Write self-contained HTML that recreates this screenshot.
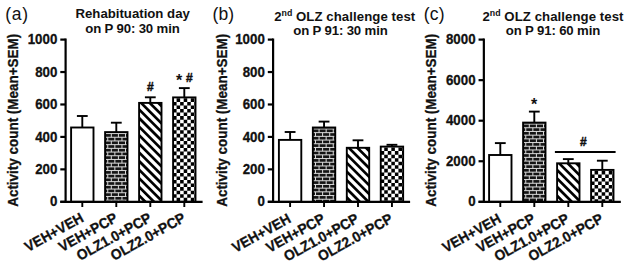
<!DOCTYPE html>
<html><head><meta charset="utf-8"><style>
html,body{margin:0;padding:0;background:#fff;overflow:hidden;}
svg{display:block;}
text{font-family:"Liberation Sans", sans-serif;fill:#111;}
.tk{stroke:#111;stroke-width:0.3px;}
</style></head><body>
<svg width="632" height="267" viewBox="0 0 632 267">
<defs>
<clipPath id="c1"><rect x="105.10" y="132.10" width="22.40" height="69.70"/></clipPath>
<clipPath id="c2"><rect x="139.10" y="102.90" width="22.40" height="98.90"/></clipPath>
<clipPath id="c3"><rect x="173.10" y="97.40" width="22.40" height="104.40"/></clipPath>
<clipPath id="c4"><rect x="312.85" y="127.50" width="22.40" height="74.30"/></clipPath>
<clipPath id="c5"><rect x="346.80" y="147.80" width="22.40" height="54.00"/></clipPath>
<clipPath id="c6"><rect x="380.75" y="146.60" width="22.40" height="55.20"/></clipPath>
<clipPath id="c7"><rect x="523.10" y="122.60" width="22.40" height="79.20"/></clipPath>
<clipPath id="c8"><rect x="557.10" y="163.30" width="22.40" height="38.50"/></clipPath>
<clipPath id="c9"><rect x="591.10" y="169.90" width="22.40" height="31.90"/></clipPath>
</defs>
<line x1="82.30" y1="127.50" x2="82.30" y2="116.00" stroke="#000" stroke-width="1.9"/>
<line x1="76.90" y1="116.00" x2="87.70" y2="116.00" stroke="#000" stroke-width="1.9"/>
<rect x="71.10" y="127.50" width="22.40" height="74.30" fill="#fff"/>
<rect x="71.10" y="127.50" width="22.40" height="74.30" fill="none" stroke="#000" stroke-width="1.9"/>
<line x1="82.30" y1="201.80" x2="82.30" y2="207" stroke="#000" stroke-width="1.9"/>
<text transform="translate(84.60,220.85) rotate(-29) scale(0.95,1)" text-anchor="end" font-size="14.5" font-weight="bold" class="tk">VEH+VEH</text>
<line x1="116.30" y1="132.10" x2="116.30" y2="122.70" stroke="#000" stroke-width="1.9"/>
<line x1="110.90" y1="122.70" x2="121.70" y2="122.70" stroke="#000" stroke-width="1.9"/>
<g clip-path="url(#c1)"><rect x="105.10" y="132.10" width="22.40" height="69.70" fill="#141414"/><rect x="105.10" y="133.05" width="22.40" height="1" fill="#dcdcdc"/><rect x="110.80" y="133.55" width="1" height="3.7" fill="#dcdcdc"/><rect x="117.90" y="133.55" width="1" height="3.7" fill="#dcdcdc"/><rect x="125.00" y="133.55" width="1" height="3.7" fill="#dcdcdc"/><rect x="105.10" y="136.75" width="22.40" height="1" fill="#dcdcdc"/><rect x="107.25" y="137.25" width="1" height="3.7" fill="#dcdcdc"/><rect x="114.35" y="137.25" width="1" height="3.7" fill="#dcdcdc"/><rect x="121.45" y="137.25" width="1" height="3.7" fill="#dcdcdc"/><rect x="105.10" y="140.45" width="22.40" height="1" fill="#dcdcdc"/><rect x="110.80" y="140.95" width="1" height="3.7" fill="#dcdcdc"/><rect x="117.90" y="140.95" width="1" height="3.7" fill="#dcdcdc"/><rect x="125.00" y="140.95" width="1" height="3.7" fill="#dcdcdc"/><rect x="105.10" y="144.15" width="22.40" height="1" fill="#dcdcdc"/><rect x="107.25" y="144.65" width="1" height="3.7" fill="#dcdcdc"/><rect x="114.35" y="144.65" width="1" height="3.7" fill="#dcdcdc"/><rect x="121.45" y="144.65" width="1" height="3.7" fill="#dcdcdc"/><rect x="105.10" y="147.85" width="22.40" height="1" fill="#dcdcdc"/><rect x="110.80" y="148.35" width="1" height="3.7" fill="#dcdcdc"/><rect x="117.90" y="148.35" width="1" height="3.7" fill="#dcdcdc"/><rect x="125.00" y="148.35" width="1" height="3.7" fill="#dcdcdc"/><rect x="105.10" y="151.55" width="22.40" height="1" fill="#dcdcdc"/><rect x="107.25" y="152.05" width="1" height="3.7" fill="#dcdcdc"/><rect x="114.35" y="152.05" width="1" height="3.7" fill="#dcdcdc"/><rect x="121.45" y="152.05" width="1" height="3.7" fill="#dcdcdc"/><rect x="105.10" y="155.25" width="22.40" height="1" fill="#dcdcdc"/><rect x="110.80" y="155.75" width="1" height="3.7" fill="#dcdcdc"/><rect x="117.90" y="155.75" width="1" height="3.7" fill="#dcdcdc"/><rect x="125.00" y="155.75" width="1" height="3.7" fill="#dcdcdc"/><rect x="105.10" y="158.95" width="22.40" height="1" fill="#dcdcdc"/><rect x="107.25" y="159.45" width="1" height="3.7" fill="#dcdcdc"/><rect x="114.35" y="159.45" width="1" height="3.7" fill="#dcdcdc"/><rect x="121.45" y="159.45" width="1" height="3.7" fill="#dcdcdc"/><rect x="105.10" y="162.65" width="22.40" height="1" fill="#dcdcdc"/><rect x="110.80" y="163.15" width="1" height="3.7" fill="#dcdcdc"/><rect x="117.90" y="163.15" width="1" height="3.7" fill="#dcdcdc"/><rect x="125.00" y="163.15" width="1" height="3.7" fill="#dcdcdc"/><rect x="105.10" y="166.35" width="22.40" height="1" fill="#dcdcdc"/><rect x="107.25" y="166.85" width="1" height="3.7" fill="#dcdcdc"/><rect x="114.35" y="166.85" width="1" height="3.7" fill="#dcdcdc"/><rect x="121.45" y="166.85" width="1" height="3.7" fill="#dcdcdc"/><rect x="105.10" y="170.05" width="22.40" height="1" fill="#dcdcdc"/><rect x="110.80" y="170.55" width="1" height="3.7" fill="#dcdcdc"/><rect x="117.90" y="170.55" width="1" height="3.7" fill="#dcdcdc"/><rect x="125.00" y="170.55" width="1" height="3.7" fill="#dcdcdc"/><rect x="105.10" y="173.75" width="22.40" height="1" fill="#dcdcdc"/><rect x="107.25" y="174.25" width="1" height="3.7" fill="#dcdcdc"/><rect x="114.35" y="174.25" width="1" height="3.7" fill="#dcdcdc"/><rect x="121.45" y="174.25" width="1" height="3.7" fill="#dcdcdc"/><rect x="105.10" y="177.45" width="22.40" height="1" fill="#dcdcdc"/><rect x="110.80" y="177.95" width="1" height="3.7" fill="#dcdcdc"/><rect x="117.90" y="177.95" width="1" height="3.7" fill="#dcdcdc"/><rect x="125.00" y="177.95" width="1" height="3.7" fill="#dcdcdc"/><rect x="105.10" y="181.15" width="22.40" height="1" fill="#dcdcdc"/><rect x="107.25" y="181.65" width="1" height="3.7" fill="#dcdcdc"/><rect x="114.35" y="181.65" width="1" height="3.7" fill="#dcdcdc"/><rect x="121.45" y="181.65" width="1" height="3.7" fill="#dcdcdc"/><rect x="105.10" y="184.85" width="22.40" height="1" fill="#dcdcdc"/><rect x="110.80" y="185.35" width="1" height="3.7" fill="#dcdcdc"/><rect x="117.90" y="185.35" width="1" height="3.7" fill="#dcdcdc"/><rect x="125.00" y="185.35" width="1" height="3.7" fill="#dcdcdc"/><rect x="105.10" y="188.55" width="22.40" height="1" fill="#dcdcdc"/><rect x="107.25" y="189.05" width="1" height="3.7" fill="#dcdcdc"/><rect x="114.35" y="189.05" width="1" height="3.7" fill="#dcdcdc"/><rect x="121.45" y="189.05" width="1" height="3.7" fill="#dcdcdc"/><rect x="105.10" y="192.25" width="22.40" height="1" fill="#dcdcdc"/><rect x="110.80" y="192.75" width="1" height="3.7" fill="#dcdcdc"/><rect x="117.90" y="192.75" width="1" height="3.7" fill="#dcdcdc"/><rect x="125.00" y="192.75" width="1" height="3.7" fill="#dcdcdc"/><rect x="105.10" y="195.95" width="22.40" height="1" fill="#dcdcdc"/><rect x="107.25" y="196.45" width="1" height="3.7" fill="#dcdcdc"/><rect x="114.35" y="196.45" width="1" height="3.7" fill="#dcdcdc"/><rect x="121.45" y="196.45" width="1" height="3.7" fill="#dcdcdc"/><rect x="105.10" y="199.65" width="22.40" height="1" fill="#dcdcdc"/><rect x="110.80" y="200.15" width="1" height="3.7" fill="#dcdcdc"/><rect x="117.90" y="200.15" width="1" height="3.7" fill="#dcdcdc"/><rect x="125.00" y="200.15" width="1" height="3.7" fill="#dcdcdc"/></g>
<rect x="105.10" y="132.10" width="22.40" height="69.70" fill="none" stroke="#000" stroke-width="1.9"/>
<line x1="116.30" y1="201.80" x2="116.30" y2="207" stroke="#000" stroke-width="1.9"/>
<text transform="translate(118.60,220.85) rotate(-29) scale(0.95,1)" text-anchor="end" font-size="14.5" font-weight="bold" class="tk">VEH+PCP</text>
<line x1="150.30" y1="102.90" x2="150.30" y2="97.30" stroke="#000" stroke-width="1.9"/>
<line x1="144.90" y1="97.30" x2="155.70" y2="97.30" stroke="#000" stroke-width="1.9"/>
<g clip-path="url(#c2)"><rect x="139.10" y="102.90" width="22.40" height="98.90" fill="#fff"/><path d="M134.10,-76.10L166.50,-43.70M134.10,-67.50L166.50,-35.10M134.10,-58.90L166.50,-26.50M134.10,-50.30L166.50,-17.90M134.10,-41.70L166.50,-9.30M134.10,-33.10L166.50,-0.70M134.10,-24.50L166.50,7.90M134.10,-15.90L166.50,16.50M134.10,-7.30L166.50,25.10M134.10,1.30L166.50,33.70M134.10,9.90L166.50,42.30M134.10,18.50L166.50,50.90M134.10,27.10L166.50,59.50M134.10,35.70L166.50,68.10M134.10,44.30L166.50,76.70M134.10,52.90L166.50,85.30M134.10,61.50L166.50,93.90M134.10,70.10L166.50,102.50M134.10,78.70L166.50,111.10M134.10,87.30L166.50,119.70M134.10,95.90L166.50,128.30M134.10,104.50L166.50,136.90M134.10,113.10L166.50,145.50M134.10,121.70L166.50,154.10M134.10,130.30L166.50,162.70M134.10,138.90L166.50,171.30M134.10,147.50L166.50,179.90M134.10,156.10L166.50,188.50M134.10,164.70L166.50,197.10M134.10,173.30L166.50,205.70M134.10,181.90L166.50,214.30M134.10,190.50L166.50,222.90M134.10,199.10L166.50,231.50" stroke="#000" stroke-width="2.68"/></g>
<rect x="139.10" y="102.90" width="22.40" height="98.90" fill="none" stroke="#000" stroke-width="1.9"/>
<line x1="150.30" y1="201.80" x2="150.30" y2="207" stroke="#000" stroke-width="1.9"/>
<text transform="translate(152.60,220.85) rotate(-29) scale(0.95,1)" text-anchor="end" font-size="14.5" font-weight="bold" class="tk">OLZ1.0+PCP</text>
<line x1="184.30" y1="97.40" x2="184.30" y2="88.10" stroke="#000" stroke-width="1.9"/>
<line x1="178.90" y1="88.10" x2="189.70" y2="88.10" stroke="#000" stroke-width="1.9"/>
<g clip-path="url(#c3)"><rect x="173.10" y="97.40" width="22.40" height="104.40" fill="#fff"/><path d="M176.58,98.35h3.55v3.55h-3.55zM183.68,98.35h3.55v3.55h-3.55zM190.78,98.35h3.55v3.55h-3.55zM173.03,101.90h3.55v3.55h-3.55zM180.12,101.90h3.55v3.55h-3.55zM187.22,101.90h3.55v3.55h-3.55zM194.32,101.90h3.55v3.55h-3.55zM176.58,105.45h3.55v3.55h-3.55zM183.68,105.45h3.55v3.55h-3.55zM190.78,105.45h3.55v3.55h-3.55zM173.03,109.00h3.55v3.55h-3.55zM180.12,109.00h3.55v3.55h-3.55zM187.22,109.00h3.55v3.55h-3.55zM194.32,109.00h3.55v3.55h-3.55zM176.58,112.55h3.55v3.55h-3.55zM183.68,112.55h3.55v3.55h-3.55zM190.78,112.55h3.55v3.55h-3.55zM173.03,116.10h3.55v3.55h-3.55zM180.12,116.10h3.55v3.55h-3.55zM187.22,116.10h3.55v3.55h-3.55zM194.32,116.10h3.55v3.55h-3.55zM176.58,119.65h3.55v3.55h-3.55zM183.68,119.65h3.55v3.55h-3.55zM190.78,119.65h3.55v3.55h-3.55zM173.03,123.20h3.55v3.55h-3.55zM180.12,123.20h3.55v3.55h-3.55zM187.22,123.20h3.55v3.55h-3.55zM194.32,123.20h3.55v3.55h-3.55zM176.58,126.75h3.55v3.55h-3.55zM183.68,126.75h3.55v3.55h-3.55zM190.78,126.75h3.55v3.55h-3.55zM173.03,130.30h3.55v3.55h-3.55zM180.12,130.30h3.55v3.55h-3.55zM187.22,130.30h3.55v3.55h-3.55zM194.32,130.30h3.55v3.55h-3.55zM176.58,133.85h3.55v3.55h-3.55zM183.68,133.85h3.55v3.55h-3.55zM190.78,133.85h3.55v3.55h-3.55zM173.03,137.40h3.55v3.55h-3.55zM180.12,137.40h3.55v3.55h-3.55zM187.22,137.40h3.55v3.55h-3.55zM194.32,137.40h3.55v3.55h-3.55zM176.58,140.95h3.55v3.55h-3.55zM183.68,140.95h3.55v3.55h-3.55zM190.78,140.95h3.55v3.55h-3.55zM173.03,144.50h3.55v3.55h-3.55zM180.12,144.50h3.55v3.55h-3.55zM187.22,144.50h3.55v3.55h-3.55zM194.32,144.50h3.55v3.55h-3.55zM176.58,148.05h3.55v3.55h-3.55zM183.68,148.05h3.55v3.55h-3.55zM190.78,148.05h3.55v3.55h-3.55zM173.03,151.60h3.55v3.55h-3.55zM180.12,151.60h3.55v3.55h-3.55zM187.22,151.60h3.55v3.55h-3.55zM194.32,151.60h3.55v3.55h-3.55zM176.58,155.15h3.55v3.55h-3.55zM183.68,155.15h3.55v3.55h-3.55zM190.78,155.15h3.55v3.55h-3.55zM173.03,158.70h3.55v3.55h-3.55zM180.12,158.70h3.55v3.55h-3.55zM187.22,158.70h3.55v3.55h-3.55zM194.32,158.70h3.55v3.55h-3.55zM176.58,162.25h3.55v3.55h-3.55zM183.68,162.25h3.55v3.55h-3.55zM190.78,162.25h3.55v3.55h-3.55zM173.03,165.80h3.55v3.55h-3.55zM180.12,165.80h3.55v3.55h-3.55zM187.22,165.80h3.55v3.55h-3.55zM194.32,165.80h3.55v3.55h-3.55zM176.58,169.35h3.55v3.55h-3.55zM183.68,169.35h3.55v3.55h-3.55zM190.78,169.35h3.55v3.55h-3.55zM173.03,172.90h3.55v3.55h-3.55zM180.12,172.90h3.55v3.55h-3.55zM187.22,172.90h3.55v3.55h-3.55zM194.32,172.90h3.55v3.55h-3.55zM176.58,176.45h3.55v3.55h-3.55zM183.68,176.45h3.55v3.55h-3.55zM190.78,176.45h3.55v3.55h-3.55zM173.03,180.00h3.55v3.55h-3.55zM180.12,180.00h3.55v3.55h-3.55zM187.22,180.00h3.55v3.55h-3.55zM194.32,180.00h3.55v3.55h-3.55zM176.58,183.55h3.55v3.55h-3.55zM183.68,183.55h3.55v3.55h-3.55zM190.78,183.55h3.55v3.55h-3.55zM173.03,187.10h3.55v3.55h-3.55zM180.12,187.10h3.55v3.55h-3.55zM187.22,187.10h3.55v3.55h-3.55zM194.32,187.10h3.55v3.55h-3.55zM176.58,190.65h3.55v3.55h-3.55zM183.68,190.65h3.55v3.55h-3.55zM190.78,190.65h3.55v3.55h-3.55zM173.03,194.20h3.55v3.55h-3.55zM180.12,194.20h3.55v3.55h-3.55zM187.22,194.20h3.55v3.55h-3.55zM194.32,194.20h3.55v3.55h-3.55zM176.58,197.75h3.55v3.55h-3.55zM183.68,197.75h3.55v3.55h-3.55zM190.78,197.75h3.55v3.55h-3.55zM173.03,201.30h3.55v3.55h-3.55zM180.12,201.30h3.55v3.55h-3.55zM187.22,201.30h3.55v3.55h-3.55zM194.32,201.30h3.55v3.55h-3.55z" fill="#000"/></g>
<rect x="173.10" y="97.40" width="22.40" height="104.40" fill="none" stroke="#000" stroke-width="1.9"/>
<line x1="184.30" y1="201.80" x2="184.30" y2="207" stroke="#000" stroke-width="1.9"/>
<text transform="translate(186.60,220.85) rotate(-29) scale(0.95,1)" text-anchor="end" font-size="14.5" font-weight="bold" class="tk">OLZ2.0+PCP</text>
<line x1="65.60" y1="38.50" x2="65.60" y2="201.80" stroke="#000" stroke-width="2.2"/>
<line x1="60.30" y1="201.80" x2="202.60" y2="201.80" stroke="#000" stroke-width="2.2"/>
<line x1="60.30" y1="201.80" x2="65.60" y2="201.80" stroke="#000" stroke-width="2.2"/>
<text transform="translate(57.30,206.40) scale(0.95,1)" text-anchor="end" font-size="14.0" font-weight="bold" class="tk">0</text>
<line x1="60.30" y1="169.36" x2="65.60" y2="169.36" stroke="#000" stroke-width="2.2"/>
<text transform="translate(57.30,173.96) scale(0.95,1)" text-anchor="end" font-size="14.0" font-weight="bold" class="tk">200</text>
<line x1="60.30" y1="136.92" x2="65.60" y2="136.92" stroke="#000" stroke-width="2.2"/>
<text transform="translate(57.30,141.52) scale(0.95,1)" text-anchor="end" font-size="14.0" font-weight="bold" class="tk">400</text>
<line x1="60.30" y1="104.48" x2="65.60" y2="104.48" stroke="#000" stroke-width="2.2"/>
<text transform="translate(57.30,109.08) scale(0.95,1)" text-anchor="end" font-size="14.0" font-weight="bold" class="tk">600</text>
<line x1="60.30" y1="72.04" x2="65.60" y2="72.04" stroke="#000" stroke-width="2.2"/>
<text transform="translate(57.30,76.64) scale(0.95,1)" text-anchor="end" font-size="14.0" font-weight="bold" class="tk">800</text>
<line x1="60.30" y1="39.60" x2="65.60" y2="39.60" stroke="#000" stroke-width="2.2"/>
<text transform="translate(57.30,44.20) scale(0.95,1)" text-anchor="end" font-size="14.0" font-weight="bold" class="tk">1000</text>
<line x1="290.10" y1="139.90" x2="290.10" y2="132.00" stroke="#000" stroke-width="1.9"/>
<line x1="284.70" y1="132.00" x2="295.50" y2="132.00" stroke="#000" stroke-width="1.9"/>
<rect x="278.90" y="139.90" width="22.40" height="61.90" fill="#fff"/>
<rect x="278.90" y="139.90" width="22.40" height="61.90" fill="none" stroke="#000" stroke-width="1.9"/>
<line x1="290.10" y1="201.80" x2="290.10" y2="207" stroke="#000" stroke-width="1.9"/>
<text transform="translate(292.00,221.65) rotate(-29) scale(0.95,1)" text-anchor="end" font-size="14.5" font-weight="bold" class="tk">VEH+VEH</text>
<line x1="324.05" y1="127.50" x2="324.05" y2="121.60" stroke="#000" stroke-width="1.9"/>
<line x1="318.65" y1="121.60" x2="329.45" y2="121.60" stroke="#000" stroke-width="1.9"/>
<g clip-path="url(#c4)"><rect x="312.85" y="127.50" width="22.40" height="74.30" fill="#141414"/><rect x="312.85" y="128.45" width="22.40" height="1" fill="#dcdcdc"/><rect x="318.55" y="128.95" width="1" height="3.7" fill="#dcdcdc"/><rect x="325.65" y="128.95" width="1" height="3.7" fill="#dcdcdc"/><rect x="332.75" y="128.95" width="1" height="3.7" fill="#dcdcdc"/><rect x="312.85" y="132.15" width="22.40" height="1" fill="#dcdcdc"/><rect x="315.00" y="132.65" width="1" height="3.7" fill="#dcdcdc"/><rect x="322.10" y="132.65" width="1" height="3.7" fill="#dcdcdc"/><rect x="329.20" y="132.65" width="1" height="3.7" fill="#dcdcdc"/><rect x="312.85" y="135.85" width="22.40" height="1" fill="#dcdcdc"/><rect x="318.55" y="136.35" width="1" height="3.7" fill="#dcdcdc"/><rect x="325.65" y="136.35" width="1" height="3.7" fill="#dcdcdc"/><rect x="332.75" y="136.35" width="1" height="3.7" fill="#dcdcdc"/><rect x="312.85" y="139.55" width="22.40" height="1" fill="#dcdcdc"/><rect x="315.00" y="140.05" width="1" height="3.7" fill="#dcdcdc"/><rect x="322.10" y="140.05" width="1" height="3.7" fill="#dcdcdc"/><rect x="329.20" y="140.05" width="1" height="3.7" fill="#dcdcdc"/><rect x="312.85" y="143.25" width="22.40" height="1" fill="#dcdcdc"/><rect x="318.55" y="143.75" width="1" height="3.7" fill="#dcdcdc"/><rect x="325.65" y="143.75" width="1" height="3.7" fill="#dcdcdc"/><rect x="332.75" y="143.75" width="1" height="3.7" fill="#dcdcdc"/><rect x="312.85" y="146.95" width="22.40" height="1" fill="#dcdcdc"/><rect x="315.00" y="147.45" width="1" height="3.7" fill="#dcdcdc"/><rect x="322.10" y="147.45" width="1" height="3.7" fill="#dcdcdc"/><rect x="329.20" y="147.45" width="1" height="3.7" fill="#dcdcdc"/><rect x="312.85" y="150.65" width="22.40" height="1" fill="#dcdcdc"/><rect x="318.55" y="151.15" width="1" height="3.7" fill="#dcdcdc"/><rect x="325.65" y="151.15" width="1" height="3.7" fill="#dcdcdc"/><rect x="332.75" y="151.15" width="1" height="3.7" fill="#dcdcdc"/><rect x="312.85" y="154.35" width="22.40" height="1" fill="#dcdcdc"/><rect x="315.00" y="154.85" width="1" height="3.7" fill="#dcdcdc"/><rect x="322.10" y="154.85" width="1" height="3.7" fill="#dcdcdc"/><rect x="329.20" y="154.85" width="1" height="3.7" fill="#dcdcdc"/><rect x="312.85" y="158.05" width="22.40" height="1" fill="#dcdcdc"/><rect x="318.55" y="158.55" width="1" height="3.7" fill="#dcdcdc"/><rect x="325.65" y="158.55" width="1" height="3.7" fill="#dcdcdc"/><rect x="332.75" y="158.55" width="1" height="3.7" fill="#dcdcdc"/><rect x="312.85" y="161.75" width="22.40" height="1" fill="#dcdcdc"/><rect x="315.00" y="162.25" width="1" height="3.7" fill="#dcdcdc"/><rect x="322.10" y="162.25" width="1" height="3.7" fill="#dcdcdc"/><rect x="329.20" y="162.25" width="1" height="3.7" fill="#dcdcdc"/><rect x="312.85" y="165.45" width="22.40" height="1" fill="#dcdcdc"/><rect x="318.55" y="165.95" width="1" height="3.7" fill="#dcdcdc"/><rect x="325.65" y="165.95" width="1" height="3.7" fill="#dcdcdc"/><rect x="332.75" y="165.95" width="1" height="3.7" fill="#dcdcdc"/><rect x="312.85" y="169.15" width="22.40" height="1" fill="#dcdcdc"/><rect x="315.00" y="169.65" width="1" height="3.7" fill="#dcdcdc"/><rect x="322.10" y="169.65" width="1" height="3.7" fill="#dcdcdc"/><rect x="329.20" y="169.65" width="1" height="3.7" fill="#dcdcdc"/><rect x="312.85" y="172.85" width="22.40" height="1" fill="#dcdcdc"/><rect x="318.55" y="173.35" width="1" height="3.7" fill="#dcdcdc"/><rect x="325.65" y="173.35" width="1" height="3.7" fill="#dcdcdc"/><rect x="332.75" y="173.35" width="1" height="3.7" fill="#dcdcdc"/><rect x="312.85" y="176.55" width="22.40" height="1" fill="#dcdcdc"/><rect x="315.00" y="177.05" width="1" height="3.7" fill="#dcdcdc"/><rect x="322.10" y="177.05" width="1" height="3.7" fill="#dcdcdc"/><rect x="329.20" y="177.05" width="1" height="3.7" fill="#dcdcdc"/><rect x="312.85" y="180.25" width="22.40" height="1" fill="#dcdcdc"/><rect x="318.55" y="180.75" width="1" height="3.7" fill="#dcdcdc"/><rect x="325.65" y="180.75" width="1" height="3.7" fill="#dcdcdc"/><rect x="332.75" y="180.75" width="1" height="3.7" fill="#dcdcdc"/><rect x="312.85" y="183.95" width="22.40" height="1" fill="#dcdcdc"/><rect x="315.00" y="184.45" width="1" height="3.7" fill="#dcdcdc"/><rect x="322.10" y="184.45" width="1" height="3.7" fill="#dcdcdc"/><rect x="329.20" y="184.45" width="1" height="3.7" fill="#dcdcdc"/><rect x="312.85" y="187.65" width="22.40" height="1" fill="#dcdcdc"/><rect x="318.55" y="188.15" width="1" height="3.7" fill="#dcdcdc"/><rect x="325.65" y="188.15" width="1" height="3.7" fill="#dcdcdc"/><rect x="332.75" y="188.15" width="1" height="3.7" fill="#dcdcdc"/><rect x="312.85" y="191.35" width="22.40" height="1" fill="#dcdcdc"/><rect x="315.00" y="191.85" width="1" height="3.7" fill="#dcdcdc"/><rect x="322.10" y="191.85" width="1" height="3.7" fill="#dcdcdc"/><rect x="329.20" y="191.85" width="1" height="3.7" fill="#dcdcdc"/><rect x="312.85" y="195.05" width="22.40" height="1" fill="#dcdcdc"/><rect x="318.55" y="195.55" width="1" height="3.7" fill="#dcdcdc"/><rect x="325.65" y="195.55" width="1" height="3.7" fill="#dcdcdc"/><rect x="332.75" y="195.55" width="1" height="3.7" fill="#dcdcdc"/><rect x="312.85" y="198.75" width="22.40" height="1" fill="#dcdcdc"/><rect x="315.00" y="199.25" width="1" height="3.7" fill="#dcdcdc"/><rect x="322.10" y="199.25" width="1" height="3.7" fill="#dcdcdc"/><rect x="329.20" y="199.25" width="1" height="3.7" fill="#dcdcdc"/></g>
<rect x="312.85" y="127.50" width="22.40" height="74.30" fill="none" stroke="#000" stroke-width="1.9"/>
<line x1="324.05" y1="201.80" x2="324.05" y2="207" stroke="#000" stroke-width="1.9"/>
<text transform="translate(325.95,221.65) rotate(-29) scale(0.95,1)" text-anchor="end" font-size="14.5" font-weight="bold" class="tk">VEH+PCP</text>
<line x1="358.00" y1="147.80" x2="358.00" y2="140.30" stroke="#000" stroke-width="1.9"/>
<line x1="352.60" y1="140.30" x2="363.40" y2="140.30" stroke="#000" stroke-width="1.9"/>
<g clip-path="url(#c5)"><rect x="346.80" y="147.80" width="22.40" height="54.00" fill="#fff"/><path d="M341.80,-31.20L374.20,1.20M341.80,-22.60L374.20,9.80M341.80,-14.00L374.20,18.40M341.80,-5.40L374.20,27.00M341.80,3.20L374.20,35.60M341.80,11.80L374.20,44.20M341.80,20.40L374.20,52.80M341.80,29.00L374.20,61.40M341.80,37.60L374.20,70.00M341.80,46.20L374.20,78.60M341.80,54.80L374.20,87.20M341.80,63.40L374.20,95.80M341.80,72.00L374.20,104.40M341.80,80.60L374.20,113.00M341.80,89.20L374.20,121.60M341.80,97.80L374.20,130.20M341.80,106.40L374.20,138.80M341.80,115.00L374.20,147.40M341.80,123.60L374.20,156.00M341.80,132.20L374.20,164.60M341.80,140.80L374.20,173.20M341.80,149.40L374.20,181.80M341.80,158.00L374.20,190.40M341.80,166.60L374.20,199.00M341.80,175.20L374.20,207.60M341.80,183.80L374.20,216.20M341.80,192.40L374.20,224.80M341.80,201.00L374.20,233.40" stroke="#000" stroke-width="2.68"/></g>
<rect x="346.80" y="147.80" width="22.40" height="54.00" fill="none" stroke="#000" stroke-width="1.9"/>
<line x1="358.00" y1="201.80" x2="358.00" y2="207" stroke="#000" stroke-width="1.9"/>
<text transform="translate(359.90,221.65) rotate(-29) scale(0.95,1)" text-anchor="end" font-size="14.5" font-weight="bold" class="tk">OLZ1.0+PCP</text>
<line x1="391.95" y1="146.60" x2="391.95" y2="144.80" stroke="#000" stroke-width="1.9"/>
<line x1="386.55" y1="144.80" x2="397.35" y2="144.80" stroke="#000" stroke-width="1.9"/>
<g clip-path="url(#c6)"><rect x="380.75" y="146.60" width="22.40" height="55.20" fill="#fff"/><path d="M384.23,147.55h3.55v3.55h-3.55zM391.33,147.55h3.55v3.55h-3.55zM398.43,147.55h3.55v3.55h-3.55zM380.68,151.10h3.55v3.55h-3.55zM387.78,151.10h3.55v3.55h-3.55zM394.88,151.10h3.55v3.55h-3.55zM401.98,151.10h3.55v3.55h-3.55zM384.23,154.65h3.55v3.55h-3.55zM391.33,154.65h3.55v3.55h-3.55zM398.43,154.65h3.55v3.55h-3.55zM380.68,158.20h3.55v3.55h-3.55zM387.78,158.20h3.55v3.55h-3.55zM394.88,158.20h3.55v3.55h-3.55zM401.98,158.20h3.55v3.55h-3.55zM384.23,161.75h3.55v3.55h-3.55zM391.33,161.75h3.55v3.55h-3.55zM398.43,161.75h3.55v3.55h-3.55zM380.68,165.30h3.55v3.55h-3.55zM387.78,165.30h3.55v3.55h-3.55zM394.88,165.30h3.55v3.55h-3.55zM401.98,165.30h3.55v3.55h-3.55zM384.23,168.85h3.55v3.55h-3.55zM391.33,168.85h3.55v3.55h-3.55zM398.43,168.85h3.55v3.55h-3.55zM380.68,172.40h3.55v3.55h-3.55zM387.78,172.40h3.55v3.55h-3.55zM394.88,172.40h3.55v3.55h-3.55zM401.98,172.40h3.55v3.55h-3.55zM384.23,175.95h3.55v3.55h-3.55zM391.33,175.95h3.55v3.55h-3.55zM398.43,175.95h3.55v3.55h-3.55zM380.68,179.50h3.55v3.55h-3.55zM387.78,179.50h3.55v3.55h-3.55zM394.88,179.50h3.55v3.55h-3.55zM401.98,179.50h3.55v3.55h-3.55zM384.23,183.05h3.55v3.55h-3.55zM391.33,183.05h3.55v3.55h-3.55zM398.43,183.05h3.55v3.55h-3.55zM380.68,186.60h3.55v3.55h-3.55zM387.78,186.60h3.55v3.55h-3.55zM394.88,186.60h3.55v3.55h-3.55zM401.98,186.60h3.55v3.55h-3.55zM384.23,190.15h3.55v3.55h-3.55zM391.33,190.15h3.55v3.55h-3.55zM398.43,190.15h3.55v3.55h-3.55zM380.68,193.70h3.55v3.55h-3.55zM387.78,193.70h3.55v3.55h-3.55zM394.88,193.70h3.55v3.55h-3.55zM401.98,193.70h3.55v3.55h-3.55zM384.23,197.25h3.55v3.55h-3.55zM391.33,197.25h3.55v3.55h-3.55zM398.43,197.25h3.55v3.55h-3.55zM380.68,200.80h3.55v3.55h-3.55zM387.78,200.80h3.55v3.55h-3.55zM394.88,200.80h3.55v3.55h-3.55zM401.98,200.80h3.55v3.55h-3.55z" fill="#000"/></g>
<rect x="380.75" y="146.60" width="22.40" height="55.20" fill="none" stroke="#000" stroke-width="1.9"/>
<line x1="391.95" y1="201.80" x2="391.95" y2="207" stroke="#000" stroke-width="1.9"/>
<text transform="translate(393.85,221.65) rotate(-29) scale(0.95,1)" text-anchor="end" font-size="14.5" font-weight="bold" class="tk">OLZ2.0+PCP</text>
<line x1="273.10" y1="38.50" x2="273.10" y2="201.80" stroke="#000" stroke-width="2.2"/>
<line x1="267.80" y1="201.80" x2="410.10" y2="201.80" stroke="#000" stroke-width="2.2"/>
<line x1="267.80" y1="201.80" x2="273.10" y2="201.80" stroke="#000" stroke-width="2.2"/>
<text transform="translate(264.80,206.40) scale(0.95,1)" text-anchor="end" font-size="14.0" font-weight="bold" class="tk">0</text>
<line x1="267.80" y1="169.36" x2="273.10" y2="169.36" stroke="#000" stroke-width="2.2"/>
<text transform="translate(264.80,173.96) scale(0.95,1)" text-anchor="end" font-size="14.0" font-weight="bold" class="tk">200</text>
<line x1="267.80" y1="136.92" x2="273.10" y2="136.92" stroke="#000" stroke-width="2.2"/>
<text transform="translate(264.80,141.52) scale(0.95,1)" text-anchor="end" font-size="14.0" font-weight="bold" class="tk">400</text>
<line x1="267.80" y1="104.48" x2="273.10" y2="104.48" stroke="#000" stroke-width="2.2"/>
<text transform="translate(264.80,109.08) scale(0.95,1)" text-anchor="end" font-size="14.0" font-weight="bold" class="tk">600</text>
<line x1="267.80" y1="72.04" x2="273.10" y2="72.04" stroke="#000" stroke-width="2.2"/>
<text transform="translate(264.80,76.64) scale(0.95,1)" text-anchor="end" font-size="14.0" font-weight="bold" class="tk">800</text>
<line x1="267.80" y1="39.60" x2="273.10" y2="39.60" stroke="#000" stroke-width="2.2"/>
<text transform="translate(264.80,44.20) scale(0.95,1)" text-anchor="end" font-size="14.0" font-weight="bold" class="tk">1000</text>
<line x1="500.30" y1="155.00" x2="500.30" y2="143.10" stroke="#000" stroke-width="1.9"/>
<line x1="494.90" y1="143.10" x2="505.70" y2="143.10" stroke="#000" stroke-width="1.9"/>
<rect x="489.10" y="155.00" width="22.40" height="46.80" fill="#fff"/>
<rect x="489.10" y="155.00" width="22.40" height="46.80" fill="none" stroke="#000" stroke-width="1.9"/>
<line x1="500.30" y1="201.80" x2="500.30" y2="207" stroke="#000" stroke-width="1.9"/>
<text transform="translate(502.20,221.65) rotate(-29) scale(0.95,1)" text-anchor="end" font-size="14.5" font-weight="bold" class="tk">VEH+VEH</text>
<line x1="534.30" y1="122.60" x2="534.30" y2="111.60" stroke="#000" stroke-width="1.9"/>
<line x1="528.90" y1="111.60" x2="539.70" y2="111.60" stroke="#000" stroke-width="1.9"/>
<g clip-path="url(#c7)"><rect x="523.10" y="122.60" width="22.40" height="79.20" fill="#141414"/><rect x="523.10" y="123.55" width="22.40" height="1" fill="#dcdcdc"/><rect x="528.80" y="124.05" width="1" height="3.7" fill="#dcdcdc"/><rect x="535.90" y="124.05" width="1" height="3.7" fill="#dcdcdc"/><rect x="543.00" y="124.05" width="1" height="3.7" fill="#dcdcdc"/><rect x="523.10" y="127.25" width="22.40" height="1" fill="#dcdcdc"/><rect x="525.25" y="127.75" width="1" height="3.7" fill="#dcdcdc"/><rect x="532.35" y="127.75" width="1" height="3.7" fill="#dcdcdc"/><rect x="539.45" y="127.75" width="1" height="3.7" fill="#dcdcdc"/><rect x="523.10" y="130.95" width="22.40" height="1" fill="#dcdcdc"/><rect x="528.80" y="131.45" width="1" height="3.7" fill="#dcdcdc"/><rect x="535.90" y="131.45" width="1" height="3.7" fill="#dcdcdc"/><rect x="543.00" y="131.45" width="1" height="3.7" fill="#dcdcdc"/><rect x="523.10" y="134.65" width="22.40" height="1" fill="#dcdcdc"/><rect x="525.25" y="135.15" width="1" height="3.7" fill="#dcdcdc"/><rect x="532.35" y="135.15" width="1" height="3.7" fill="#dcdcdc"/><rect x="539.45" y="135.15" width="1" height="3.7" fill="#dcdcdc"/><rect x="523.10" y="138.35" width="22.40" height="1" fill="#dcdcdc"/><rect x="528.80" y="138.85" width="1" height="3.7" fill="#dcdcdc"/><rect x="535.90" y="138.85" width="1" height="3.7" fill="#dcdcdc"/><rect x="543.00" y="138.85" width="1" height="3.7" fill="#dcdcdc"/><rect x="523.10" y="142.05" width="22.40" height="1" fill="#dcdcdc"/><rect x="525.25" y="142.55" width="1" height="3.7" fill="#dcdcdc"/><rect x="532.35" y="142.55" width="1" height="3.7" fill="#dcdcdc"/><rect x="539.45" y="142.55" width="1" height="3.7" fill="#dcdcdc"/><rect x="523.10" y="145.75" width="22.40" height="1" fill="#dcdcdc"/><rect x="528.80" y="146.25" width="1" height="3.7" fill="#dcdcdc"/><rect x="535.90" y="146.25" width="1" height="3.7" fill="#dcdcdc"/><rect x="543.00" y="146.25" width="1" height="3.7" fill="#dcdcdc"/><rect x="523.10" y="149.45" width="22.40" height="1" fill="#dcdcdc"/><rect x="525.25" y="149.95" width="1" height="3.7" fill="#dcdcdc"/><rect x="532.35" y="149.95" width="1" height="3.7" fill="#dcdcdc"/><rect x="539.45" y="149.95" width="1" height="3.7" fill="#dcdcdc"/><rect x="523.10" y="153.15" width="22.40" height="1" fill="#dcdcdc"/><rect x="528.80" y="153.65" width="1" height="3.7" fill="#dcdcdc"/><rect x="535.90" y="153.65" width="1" height="3.7" fill="#dcdcdc"/><rect x="543.00" y="153.65" width="1" height="3.7" fill="#dcdcdc"/><rect x="523.10" y="156.85" width="22.40" height="1" fill="#dcdcdc"/><rect x="525.25" y="157.35" width="1" height="3.7" fill="#dcdcdc"/><rect x="532.35" y="157.35" width="1" height="3.7" fill="#dcdcdc"/><rect x="539.45" y="157.35" width="1" height="3.7" fill="#dcdcdc"/><rect x="523.10" y="160.55" width="22.40" height="1" fill="#dcdcdc"/><rect x="528.80" y="161.05" width="1" height="3.7" fill="#dcdcdc"/><rect x="535.90" y="161.05" width="1" height="3.7" fill="#dcdcdc"/><rect x="543.00" y="161.05" width="1" height="3.7" fill="#dcdcdc"/><rect x="523.10" y="164.25" width="22.40" height="1" fill="#dcdcdc"/><rect x="525.25" y="164.75" width="1" height="3.7" fill="#dcdcdc"/><rect x="532.35" y="164.75" width="1" height="3.7" fill="#dcdcdc"/><rect x="539.45" y="164.75" width="1" height="3.7" fill="#dcdcdc"/><rect x="523.10" y="167.95" width="22.40" height="1" fill="#dcdcdc"/><rect x="528.80" y="168.45" width="1" height="3.7" fill="#dcdcdc"/><rect x="535.90" y="168.45" width="1" height="3.7" fill="#dcdcdc"/><rect x="543.00" y="168.45" width="1" height="3.7" fill="#dcdcdc"/><rect x="523.10" y="171.65" width="22.40" height="1" fill="#dcdcdc"/><rect x="525.25" y="172.15" width="1" height="3.7" fill="#dcdcdc"/><rect x="532.35" y="172.15" width="1" height="3.7" fill="#dcdcdc"/><rect x="539.45" y="172.15" width="1" height="3.7" fill="#dcdcdc"/><rect x="523.10" y="175.35" width="22.40" height="1" fill="#dcdcdc"/><rect x="528.80" y="175.85" width="1" height="3.7" fill="#dcdcdc"/><rect x="535.90" y="175.85" width="1" height="3.7" fill="#dcdcdc"/><rect x="543.00" y="175.85" width="1" height="3.7" fill="#dcdcdc"/><rect x="523.10" y="179.05" width="22.40" height="1" fill="#dcdcdc"/><rect x="525.25" y="179.55" width="1" height="3.7" fill="#dcdcdc"/><rect x="532.35" y="179.55" width="1" height="3.7" fill="#dcdcdc"/><rect x="539.45" y="179.55" width="1" height="3.7" fill="#dcdcdc"/><rect x="523.10" y="182.75" width="22.40" height="1" fill="#dcdcdc"/><rect x="528.80" y="183.25" width="1" height="3.7" fill="#dcdcdc"/><rect x="535.90" y="183.25" width="1" height="3.7" fill="#dcdcdc"/><rect x="543.00" y="183.25" width="1" height="3.7" fill="#dcdcdc"/><rect x="523.10" y="186.45" width="22.40" height="1" fill="#dcdcdc"/><rect x="525.25" y="186.95" width="1" height="3.7" fill="#dcdcdc"/><rect x="532.35" y="186.95" width="1" height="3.7" fill="#dcdcdc"/><rect x="539.45" y="186.95" width="1" height="3.7" fill="#dcdcdc"/><rect x="523.10" y="190.15" width="22.40" height="1" fill="#dcdcdc"/><rect x="528.80" y="190.65" width="1" height="3.7" fill="#dcdcdc"/><rect x="535.90" y="190.65" width="1" height="3.7" fill="#dcdcdc"/><rect x="543.00" y="190.65" width="1" height="3.7" fill="#dcdcdc"/><rect x="523.10" y="193.85" width="22.40" height="1" fill="#dcdcdc"/><rect x="525.25" y="194.35" width="1" height="3.7" fill="#dcdcdc"/><rect x="532.35" y="194.35" width="1" height="3.7" fill="#dcdcdc"/><rect x="539.45" y="194.35" width="1" height="3.7" fill="#dcdcdc"/><rect x="523.10" y="197.55" width="22.40" height="1" fill="#dcdcdc"/><rect x="528.80" y="198.05" width="1" height="3.7" fill="#dcdcdc"/><rect x="535.90" y="198.05" width="1" height="3.7" fill="#dcdcdc"/><rect x="543.00" y="198.05" width="1" height="3.7" fill="#dcdcdc"/><rect x="523.10" y="201.25" width="22.40" height="1" fill="#dcdcdc"/><rect x="525.25" y="201.75" width="1" height="3.7" fill="#dcdcdc"/><rect x="532.35" y="201.75" width="1" height="3.7" fill="#dcdcdc"/><rect x="539.45" y="201.75" width="1" height="3.7" fill="#dcdcdc"/></g>
<rect x="523.10" y="122.60" width="22.40" height="79.20" fill="none" stroke="#000" stroke-width="1.9"/>
<line x1="534.30" y1="201.80" x2="534.30" y2="207" stroke="#000" stroke-width="1.9"/>
<text transform="translate(536.20,221.65) rotate(-29) scale(0.95,1)" text-anchor="end" font-size="14.5" font-weight="bold" class="tk">VEH+PCP</text>
<line x1="568.30" y1="163.30" x2="568.30" y2="159.10" stroke="#000" stroke-width="1.9"/>
<line x1="562.90" y1="159.10" x2="573.70" y2="159.10" stroke="#000" stroke-width="1.9"/>
<g clip-path="url(#c8)"><rect x="557.10" y="163.30" width="22.40" height="38.50" fill="#fff"/><path d="M552.10,-15.70L584.50,16.70M552.10,-7.10L584.50,25.30M552.10,1.50L584.50,33.90M552.10,10.10L584.50,42.50M552.10,18.70L584.50,51.10M552.10,27.30L584.50,59.70M552.10,35.90L584.50,68.30M552.10,44.50L584.50,76.90M552.10,53.10L584.50,85.50M552.10,61.70L584.50,94.10M552.10,70.30L584.50,102.70M552.10,78.90L584.50,111.30M552.10,87.50L584.50,119.90M552.10,96.10L584.50,128.50M552.10,104.70L584.50,137.10M552.10,113.30L584.50,145.70M552.10,121.90L584.50,154.30M552.10,130.50L584.50,162.90M552.10,139.10L584.50,171.50M552.10,147.70L584.50,180.10M552.10,156.30L584.50,188.70M552.10,164.90L584.50,197.30M552.10,173.50L584.50,205.90M552.10,182.10L584.50,214.50M552.10,190.70L584.50,223.10M552.10,199.30L584.50,231.70" stroke="#000" stroke-width="2.68"/></g>
<rect x="557.10" y="163.30" width="22.40" height="38.50" fill="none" stroke="#000" stroke-width="1.9"/>
<line x1="568.30" y1="201.80" x2="568.30" y2="207" stroke="#000" stroke-width="1.9"/>
<text transform="translate(570.20,221.65) rotate(-29) scale(0.95,1)" text-anchor="end" font-size="14.5" font-weight="bold" class="tk">OLZ1.0+PCP</text>
<line x1="602.30" y1="169.90" x2="602.30" y2="160.70" stroke="#000" stroke-width="1.9"/>
<line x1="596.90" y1="160.70" x2="607.70" y2="160.70" stroke="#000" stroke-width="1.9"/>
<g clip-path="url(#c9)"><rect x="591.10" y="169.90" width="22.40" height="31.90" fill="#fff"/><path d="M594.57,170.85h3.55v3.55h-3.55zM601.67,170.85h3.55v3.55h-3.55zM608.77,170.85h3.55v3.55h-3.55zM591.02,174.40h3.55v3.55h-3.55zM598.12,174.40h3.55v3.55h-3.55zM605.23,174.40h3.55v3.55h-3.55zM612.33,174.40h3.55v3.55h-3.55zM594.57,177.95h3.55v3.55h-3.55zM601.67,177.95h3.55v3.55h-3.55zM608.77,177.95h3.55v3.55h-3.55zM591.02,181.50h3.55v3.55h-3.55zM598.12,181.50h3.55v3.55h-3.55zM605.23,181.50h3.55v3.55h-3.55zM612.33,181.50h3.55v3.55h-3.55zM594.57,185.05h3.55v3.55h-3.55zM601.67,185.05h3.55v3.55h-3.55zM608.77,185.05h3.55v3.55h-3.55zM591.02,188.60h3.55v3.55h-3.55zM598.12,188.60h3.55v3.55h-3.55zM605.23,188.60h3.55v3.55h-3.55zM612.33,188.60h3.55v3.55h-3.55zM594.57,192.15h3.55v3.55h-3.55zM601.67,192.15h3.55v3.55h-3.55zM608.77,192.15h3.55v3.55h-3.55zM591.02,195.70h3.55v3.55h-3.55zM598.12,195.70h3.55v3.55h-3.55zM605.23,195.70h3.55v3.55h-3.55zM612.33,195.70h3.55v3.55h-3.55zM594.57,199.25h3.55v3.55h-3.55zM601.67,199.25h3.55v3.55h-3.55zM608.77,199.25h3.55v3.55h-3.55z" fill="#000"/></g>
<rect x="591.10" y="169.90" width="22.40" height="31.90" fill="none" stroke="#000" stroke-width="1.9"/>
<line x1="602.30" y1="201.80" x2="602.30" y2="207" stroke="#000" stroke-width="1.9"/>
<text transform="translate(604.20,221.65) rotate(-29) scale(0.95,1)" text-anchor="end" font-size="14.5" font-weight="bold" class="tk">OLZ2.0+PCP</text>
<line x1="483.85" y1="38.50" x2="483.85" y2="201.80" stroke="#000" stroke-width="2.2"/>
<line x1="478.55" y1="201.80" x2="620.85" y2="201.80" stroke="#000" stroke-width="2.2"/>
<line x1="478.55" y1="201.80" x2="483.85" y2="201.80" stroke="#000" stroke-width="2.2"/>
<text transform="translate(475.55,206.40) scale(0.95,1)" text-anchor="end" font-size="14.0" font-weight="bold" class="tk">0</text>
<line x1="478.55" y1="161.25" x2="483.85" y2="161.25" stroke="#000" stroke-width="2.2"/>
<text transform="translate(475.55,165.85) scale(0.95,1)" text-anchor="end" font-size="14.0" font-weight="bold" class="tk">2000</text>
<line x1="478.55" y1="120.70" x2="483.85" y2="120.70" stroke="#000" stroke-width="2.2"/>
<text transform="translate(475.55,125.30) scale(0.95,1)" text-anchor="end" font-size="14.0" font-weight="bold" class="tk">4000</text>
<line x1="478.55" y1="80.15" x2="483.85" y2="80.15" stroke="#000" stroke-width="2.2"/>
<text transform="translate(475.55,84.75) scale(0.95,1)" text-anchor="end" font-size="14.0" font-weight="bold" class="tk">6000</text>
<line x1="478.55" y1="39.60" x2="483.85" y2="39.60" stroke="#000" stroke-width="2.2"/>
<text transform="translate(475.55,44.20) scale(0.95,1)" text-anchor="end" font-size="14.0" font-weight="bold" class="tk">8000</text>
<text transform="translate(18.30,120.3) rotate(-90) scale(0.962,1)" text-anchor="middle" font-size="14.0" font-weight="bold" class="tk">Activity count (Mean+SEM)</text>
<text transform="translate(226.50,120.3) rotate(-90) scale(0.962,1)" text-anchor="middle" font-size="14.0" font-weight="bold" class="tk">Activity count (Mean+SEM)</text>
<text transform="translate(436.00,120.3) rotate(-90) scale(0.962,1)" text-anchor="middle" font-size="14.0" font-weight="bold" class="tk">Activity count (Mean+SEM)</text>
<text x="5.2" y="20.3" font-size="17.5" letter-spacing="0.7">(a)</text>
<text x="212.5" y="20.3" font-size="17.5" letter-spacing="0.1">(b)</text>
<text x="423.7" y="20.3" font-size="17.5" letter-spacing="0.3">(c)</text>
<text x="75.5" y="18" font-size="13.2" font-weight="bold">Rehabituation day</text>
<text x="85.3" y="32.5" font-size="13.2" font-weight="bold" letter-spacing="-0.15">on P 90: 30 min</text>
<text x="274.2" y="20.9" font-size="13.2" font-weight="bold">2<tspan font-size="8.8" dy="-5.2">nd</tspan><tspan dy="5.2" letter-spacing="0.07"> OLZ challenge test</tspan></text>
<text x="293.3" y="35.4" font-size="13.2" font-weight="bold" letter-spacing="-0.15">on P 91: 30 min</text>
<text x="482.5" y="20.8" font-size="13.2" font-weight="bold">2<tspan font-size="8.8" dy="-5.2">nd</tspan><tspan dy="5.2" letter-spacing="0.07"> OLZ challenge test</tspan></text>
<text x="505.8" y="35.2" font-size="13.2" font-weight="bold" letter-spacing="-0.15">on P 91: 60 min</text>
<text x="146.90" y="90.80" font-size="12" font-weight="bold" stroke="#111" stroke-width="0.45">#</text>
<text x="175.90" y="85.90" font-size="16" font-weight="bold">*</text>
<text x="186.00" y="81.70" font-size="12" font-weight="bold" stroke="#111" stroke-width="0.45">#</text>
<text x="530.90" y="110.30" font-size="16" font-weight="bold">*</text>
<line x1="554.9" y1="152" x2="615.6" y2="152" stroke="#000" stroke-width="1.9"/>
<text x="580.00" y="145.80" font-size="12" font-weight="bold" stroke="#111" stroke-width="0.45">#</text>
</svg></body></html>
